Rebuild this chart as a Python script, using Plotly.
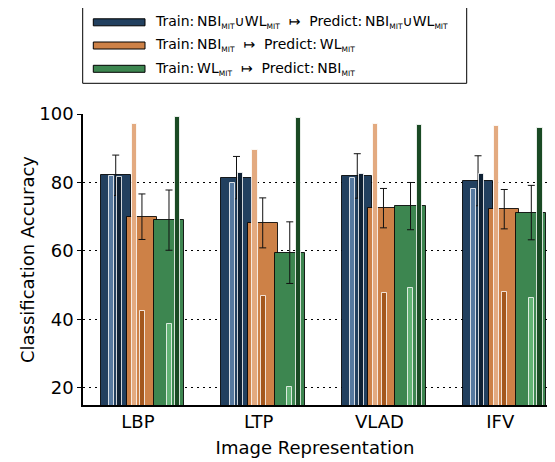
import plotly.graph_objects as go

# ---------------- data ----------------
categories = ["LBP", "LTP", "VLAD", "IFV"]

# main bars (mean accuracy) and std
union_mean = [82.1, 81.4, 81.9, 80.5]
union_err = [5.9, 6.2, 6.5, 7.3]
nbi2wl_mean = [70.0, 68.2, 72.5, 72.2]
nbi2wl_err = [6.65, 7.3, 5.75, 5.75]
wl2nbi_mean = [69.0, 59.5, 73.1, 71.2]
wl2nbi_err = [8.8, 9.0, 6.9, 7.95]

# thin inner bars (light / dark)
union_light = [82.0, 79.9, 81.2, 78.2]
union_dark = [81.6, 82.9, 82.4, 82.4]
nbi2wl_light = [97.2, 89.4, 97.2, 96.4]
nbi2wl_dark = [42.6, 46.9, 47.6, 47.9]
wl2nbi_light = [38.8, 20.2, 49.1, 46.4]
wl2nbi_dark = [99.2, 98.7, 96.8, 96.0]

yticks = [20, 40, 60, 80, 100]

# ---------------- style ----------------
FONT = "DejaVu Sans"
C_BLUE, C_BLUE_L, C_BLUE_D = "#22405f", "#56799f", "#0f2134"
C_OR, C_OR_L, C_OR_D = "#cd8147", "#e3aa80", "#a3571d"
C_GR, C_GR_L, C_GR_D = "#3d8650", "#62b274", "#1a4a24"

# the page body has an 8px margin, so the figure is offset by 8px
OFF = 8
W, H = 555 - OFF, 462 - OFF
ML, MR, MT, MB = 83 - OFF, 8, 114 - OFF, 57
PW, PH = W - ML - MR, H - MT - MB

xpos = list(range(len(categories)))
MAIN_W = 0.25
THIN_W = 0.042

series = [
    # (mean, err, color, offset, light, light color, light off, dark, dark color, dark off)
    (union_mean, union_err, C_BLUE, -0.184, union_light, C_BLUE_L, -0.220, union_dark, C_BLUE_D, -0.152),
    (nbi2wl_mean, nbi2wl_err, C_OR, 0.033, nbi2wl_light, C_OR_L, -0.031, nbi2wl_dark, C_OR_D, 0.038),
    (wl2nbi_mean, wl2nbi_err, C_GR, 0.257, wl2nbi_light, C_GR_L, 0.258, wl2nbi_dark, C_GR_D, 0.329),
]

fig = go.Figure()
for mean, err, col, off, light, lcol, loff, dark, dcol, doff in series:
    fig.add_trace(go.Bar(
        x=[p + off for p in xpos], y=mean, width=MAIN_W, base=0,
        marker=dict(color=col, line=dict(color="rgba(0,0,0,0.85)", width=1)),
        error_y=dict(type="data", array=err, color="#111111", thickness=1, width=3.5),
        showlegend=False, hoverinfo="skip",
    ))
    fig.add_trace(go.Bar(
        x=[p + loff for p in xpos], y=light, width=THIN_W, base=0,
        marker=dict(color=lcol, line=dict(color="rgba(255,255,255,0.8)", width=1)),
        showlegend=False, hoverinfo="skip",
    ))
    fig.add_trace(go.Bar(
        x=[p + doff for p in xpos], y=dark, width=THIN_W, base=0,
        marker=dict(color=dcol, line=dict(color="rgba(255,255,255,0.8)", width=1)),
        showlegend=False, hoverinfo="skip",
    ))

# ---------------- manual legend (paper coords from page-pixel layout) ----------------
def px(x):
    return (x - OFF - ML) / PW

def py(y):
    return (H - MB - (y - OFF)) / PH

SUB = '<sub><span style="font-size:7.5px">MIT</span></sub>'
ARROW = "\u00a0\u00a0\u21a6\u00a0\u00a0"
shapes = [dict(type="rect", xref="paper", yref="paper",
               x0=px(82.7), x1=px(466.7), y0=py(83.3), y1=py(5.7),
               line=dict(color="black", width=1), fillcolor="white", layer="above")]
legend_items = [
    (C_BLUE, f"Train:\u2009NBI{SUB}\u222aWL{SUB}{ARROW}Predict:\u2009NBI{SUB}\u222aWL{SUB}"),
    (C_OR, f"Train:\u2009NBI{SUB}{ARROW}Predict:\u2009WL{SUB}"),
    (C_GR, f"Train:\u2009WL{SUB}{ARROW}Predict:\u2009NBI{SUB}"),
]
row_y = [22.3, 45.5, 68.8]
annotations = []
for (col, txt), ry in zip(legend_items, row_y):
    shapes.append(dict(type="rect", xref="paper", yref="paper",
                       x0=px(93.3), x1=px(145), y0=py(ry + 3.5), y1=py(ry - 3.5),
                       line=dict(color="black", width=1), fillcolor=col, layer="above"))
    annotations.append(dict(xref="paper", yref="paper", x=px(153), y=py(ry),
                            xanchor="left", yanchor="middle", text=txt, showarrow=False,
                            font=dict(family=FONT, size=14, color="black")))

fig.update_layout(
    width=W, height=H,
    margin=dict(l=ML, r=MR, t=MT, b=MB, pad=0),
    paper_bgcolor="white", plot_bgcolor="white",
    barmode="overlay", bargap=0,
    font=dict(family=FONT, size=18, color="black"),
    shapes=shapes, annotations=annotations,
    xaxis=dict(
        range=[-0.455, 3.387], tickmode="array", tickvals=xpos, ticktext=categories,
        showgrid=False, zeroline=False, showline=True, linecolor="black", linewidth=1.5,
        ticks="", tickfont=dict(size=18, family=FONT), automargin=False,
        title=dict(text="Image Representation", font=dict(size=18, family=FONT), standoff=10),
    ),
    yaxis=dict(
        range=[15, 100], tickmode="array", tickvals=yticks,
        showgrid=True, gridcolor="black", gridwidth=1, griddash="1.5px,4.5px",
        zeroline=False, showline=True, linecolor="black", linewidth=1.5,
        ticks="outside", ticklen=4, tickcolor="black", tickwidth=1, automargin=False,
        tickfont=dict(size=18, family=FONT),
        title=dict(text="Classification Accuracy", font=dict(size=18, family=FONT), standoff=0),
    ),
)

fig.write_html("out.html")
